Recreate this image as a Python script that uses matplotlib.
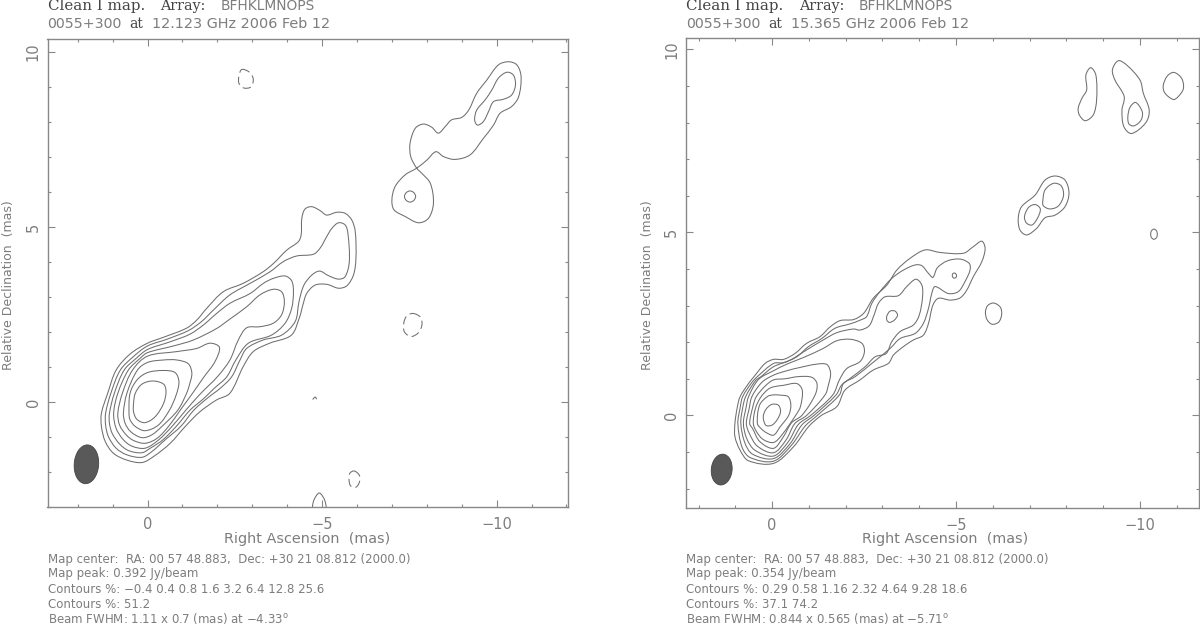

import math

import matplotlib

matplotlib.use("Agg")
import matplotlib.pyplot as plt
from matplotlib.patches import Ellipse, PathPatch
from matplotlib.path import Path
from matplotlib.ticker import MultipleLocator

GREY = "#7d7d7d"
DARK = "#444444"
SANS = "DejaVu Sans"
SERIF = "DejaVu Serif"

# Contours are (RA offset, Dec offset) in mas.
# 12.123 GHz map
l_core_1 = [(1.32, -0.32), (1.14, 0.25), (0.90, 0.91), (0.50, 1.37), (0.00, 1.68), (-0.46, 1.85), (-1.12, 2.11),
            (-1.41, 2.34), (-1.70, 2.68), (-2.17, 3.15), (-2.74, 3.39), (-3.31, 3.72), (-3.61, 3.96),
            (-3.99, 4.34), (-4.32, 4.58), (-4.40, 4.77), (-4.42, 5.25), (-4.51, 5.51), (-4.70, 5.58), (-4.94, 5.47),
            (-5.13, 5.34), (-5.42, 5.42), (-5.66, 5.39), (-5.85, 5.20), (-5.95, 4.87), (-5.97, 4.10), (-5.90, 3.63),
            (-5.71, 3.32), (-5.47, 3.25), (-5.14, 3.36), (-4.80, 3.34), (-4.56, 3.10), (-4.45, 2.77), (-4.36, 2.44),
            (-4.12, 1.91), (-3.50, 1.68), (-3.03, 1.44), (-2.74, 1.01), (-2.36, 0.25), (-1.98, 0.06), (-1.50, -0.28),
            (-1.08, -0.70), (-0.65, -1.18), (-0.17, -1.56), (0.16, -1.73), (0.59, -1.66), (0.97, -1.47), (1.21, -1.13),
            (1.32, -0.70)]
l_core_2 = [(-2.36, 3.06), (-2.94, 3.39), (-3.51, 3.72), (-3.89, 4.01), (-4.27, 4.17), (-4.75, 4.22), (-4.94, 4.39),
            (-5.13, 4.72), (-5.28, 4.96), (-5.47, 5.12), (-5.66, 5.06), (-5.74, 4.82), (-5.78, 4.01), (-5.66, 3.58),
            (-5.47, 3.51), (-5.18, 3.61), (-4.93, 3.74), (-4.71, 3.63), (-4.48, 3.34), (-4.34, 2.87), (-4.23, 2.30),
            (-3.84, 1.91), (-3.31, 1.77), (-2.84, 1.53), (-2.65, 1.20), (-2.41, 0.72), (-2.08, 0.39), (-1.74, 0.13),
            (-1.33, -0.23), (-0.95, -0.70), (-0.53, -1.06), (-0.12, -1.42), (0.16, -1.58), (0.59, -1.51), (0.90, -1.32),
            (1.12, -0.99), (1.20, -0.66), (1.20, -0.32), (1.05, 0.25), (0.78, 0.91), (0.40, 1.30), (0.00, 1.60),
            (-0.55, 1.79), (-1.17, 2.04), (-1.55, 2.30), (-1.89, 2.63)]
l_core_3 = [(-2.36, 2.82), (-2.94, 3.10), (-3.32, 3.39), (-3.60, 3.53), (-3.94, 3.60), (-4.13, 3.46), (-4.18, 3.15),
            (-4.13, 2.68), (-3.94, 2.25), (-3.55, 1.91), (-2.89, 1.68), (-2.53, 1.20), (-2.27, 0.72), (-1.91, 0.39),
            (-1.60, 0.09), (-1.22, -0.23), (-0.82, -0.70), (-0.43, -1.09), (-0.08, -1.32), (0.16, -1.45), (0.54, -1.39),
            (0.80, -1.20), (1.01, -0.90), (1.09, -0.61), (1.09, -0.32), (0.95, 0.25), (0.67, 0.91), (0.32, 1.25),
            (0.00, 1.50), (-0.65, 1.72), (-1.22, 1.94), (-1.60, 2.20), (-1.98, 2.53)]
l_core_4 = [(-2.36, 2.37), (-2.84, 2.72), (-3.22, 3.06), (-3.60, 3.22), (-3.84, 3.15), (-3.92, 2.87), (-3.84, 2.49),
            (-3.60, 2.25), (-3.22, 2.15), (-2.84, 2.12), (-2.60, 1.77), (-2.36, 1.20), (-2.00, 0.72), (-1.53, 0.25),
            (-1.10, -0.23), (-0.70, -0.70), (-0.31, -1.09), (0.07, -1.32), (0.45, -1.26), (0.70, -1.07), (0.90, -0.75),
            (0.97, -0.32), (0.85, 0.25), (0.55, 0.91), (0.21, 1.25), (0.00, 1.41), (-0.74, 1.60), (-1.31, 1.77),
            (-1.98, 2.10)]
l_core_5 = [(0.85, -0.32), (0.72, 0.25), (0.43, 0.91), (0.00, 1.31), (-0.84, 1.44), (-1.41, 1.53), (-1.79, 1.68),
            (-2.06, 1.56), (-1.93, 1.15), (-1.62, 0.72), (-1.29, 0.25), (-0.94, -0.23), (-0.60, -0.70), (-0.27, -1.04),
            (0.07, -1.18), (0.40, -1.10), (0.61, -0.94), (0.80, -0.66)]
l_core_6 = [(0.69, -0.32), (0.59, 0.25), (0.29, 0.91), (0.00, 1.13), (-0.46, 1.20), (-0.84, 1.20), (-1.17, 1.09),
            (-1.27, 0.82), (-1.20, 0.49), (-1.12, 0.25), (-0.87, -0.23), (-0.41, -0.70), (-0.12, -0.94), (0.16, -1.02),
            (0.48, -0.85), (0.64, -0.61)]
l_core_7 = [(0.53, -0.32), (0.50, 0.25), (0.30, 0.63), (0.00, 0.84), (-0.46, 0.90), (-0.79, 0.84), (-0.90, 0.58),
            (-0.82, 0.20), (-0.63, -0.23), (-0.31, -0.66), (0.07, -0.82), (0.35, -0.70), (0.50, -0.51)]
l_core_8 = [(0.40, -0.04), (0.35, 0.25), (0.16, 0.51), (-0.15, 0.60), (-0.46, 0.51), (-0.53, 0.30), (-0.46, -0.04),
            (-0.22, -0.42), (0.07, -0.59), (0.30, -0.50), (0.40, -0.28)]
l_jet_outer = [(-7.71, 6.68), (-7.54, 7.01), (-7.52, 7.39), (-7.67, 7.82), (-7.90, 7.94), (-8.14, 7.85), (-8.33, 7.68),
               (-8.53, 7.87), (-8.71, 8.06), (-9.00, 8.13), (-9.20, 8.34), (-9.43, 8.82), (-9.72, 9.20), (-10.05, 9.63),
               (-10.34, 9.72), (-10.58, 9.63), (-10.70, 9.30), (-10.63, 8.72), (-10.43, 8.44), (-10.10, 8.25),
               (-9.91, 7.91), (-9.62, 7.53), (-9.24, 7.06), (-8.81, 6.93), (-8.48, 7.01), (-8.26, 7.15), (-8.00, 6.91),
               (-7.71, 6.68), (-7.38, 6.49), (-7.09, 6.15), (-7.00, 5.77), (-7.06, 5.49), (-7.38, 5.30), (-7.76, 5.12),
               (-8.05, 5.25), (-8.19, 5.68), (-8.10, 6.25), (-7.86, 6.53)]
l_jet_inner = [(-9.37, 8.06), (-9.43, 8.34), (-9.67, 8.63), (-9.86, 8.91), (-10.05, 9.25), (-10.29, 9.42),
               (-10.48, 9.34), (-10.54, 9.06), (-10.43, 8.77), (-10.20, 8.65), (-9.91, 8.58), (-9.77, 8.30),
               (-9.62, 8.01), (-9.45, 7.91)]
l_knot = [(-7.52, 6.03), (-7.63, 5.98), (-7.68, 5.87), (-7.63, 5.76), (-7.52, 5.71), (-7.41, 5.76), (-7.36, 5.87),
          (-7.41, 5.98)]
l_neg_top = [(-2.70, 9.50), (-2.92, 9.42), (-3.03, 9.22), (-2.96, 9.00), (-2.76, 8.97), (-2.62, 9.10), (-2.62, 9.32)]
l_neg_mid = [(-7.60, 2.53), (-7.82, 2.42), (-7.86, 2.20), (-7.76, 1.98), (-7.55, 1.87), (-7.36, 2.00), (-7.34, 2.25),
             (-7.42, 2.45)]
l_neg_low = [(-5.92, -1.97), (-6.06, -2.08), (-6.08, -2.25), (-5.98, -2.43), (-5.82, -2.40), (-5.77, -2.20),
             (-5.80, -2.03)]
l_neg_tiny = [(-4.73, 0.07), (-4.80, 0.14), (-4.85, 0.08)]
l_arc_bottom = [(-4.70, -3.20), (-4.76, -2.82), (-4.92, -2.60), (-5.08, -2.82), (-5.14, -3.20)]

# 15.365 GHz map
r_core_1 = [(1.01, -0.22), (0.95, 0.20), (0.87, 0.51), (0.62, 0.90), (0.49, 1.06), (0.19, 1.42), (-0.04, 1.53),
            (-0.31, 1.53), (-0.62, 1.69), (-0.94, 1.97), (-1.30, 2.15), (-1.58, 2.42), (-1.85, 2.59), (-2.22, 2.62),
            (-2.49, 2.79), (-2.75, 3.20), (-3.12, 3.56), (-3.39, 3.97), (-3.75, 4.29), (-4.16, 4.52), (-4.57, 4.45),
            (-5.20, 4.43), (-5.47, 4.61), (-5.70, 4.76), (-5.79, 4.56), (-5.70, 4.20), (-5.47, 3.79), (-5.29, 3.42),
            (-5.11, 3.21), (-4.84, 3.15), (-4.52, 3.20), (-4.37, 3.01), (-4.25, 2.51), (-4.11, 2.19), (-3.84, 2.06),
            (-3.57, 1.88), (-3.30, 1.65), (-3.16, 1.42), (-2.75, 1.24), (-2.39, 0.97), (-1.98, 0.69), (-1.76, 0.24),
            (-1.34, 0.00), (-0.99, -0.31), (-0.58, -0.86), (-0.04, -1.31), (0.64, -1.24), (0.87, -0.95), (1.01, -0.58)]
r_core_2 = [(-2.39, 2.60), (-2.57, 2.70), (-2.71, 3.06), (-2.93, 3.38), (-3.25, 3.74), (-3.57, 3.97), (-3.89, 4.11),
            (-4.07, 4.09), (-4.25, 3.88), (-4.37, 3.77), (-4.49, 4.03), (-4.76, 4.22), (-5.11, 4.27), (-5.36, 4.15),
            (-5.38, 3.97), (-5.24, 3.65), (-5.06, 3.38), (-4.79, 3.33), (-4.43, 3.52), (-4.34, 3.33), (-4.25, 2.92),
            (-4.11, 2.51), (-3.89, 2.24), (-3.48, 2.10), (-3.21, 1.83), (-2.71, 1.42), (-2.26, 1.06), (-1.94, 0.87),
            (-1.83, 0.56), (-1.23, 0.00), (-0.90, -0.29), (-0.53, -0.81), (-0.04, -1.25), (0.60, -1.15), (0.82, -0.86),
            (0.93, -0.22), (0.87, 0.20), (0.80, 0.51), (0.55, 0.90), (0.40, 1.06), (-0.04, 1.42), (-0.31, 1.44),
            (-0.67, 1.60), (-0.99, 1.88), (-1.35, 2.10), (-1.71, 2.38), (-2.12, 2.50)]
r_core_3 = [(-2.39, 2.33), (-2.64, 2.45), (-2.77, 2.74), (-2.89, 3.06), (-3.07, 3.24), (-3.43, 3.27), (-3.66, 3.52),
            (-3.91, 3.72), (-4.07, 3.56), (-4.09, 3.24), (-4.00, 2.74), (-3.84, 2.47), (-3.48, 2.29), (-3.25, 2.01),
            (-3.10, 1.69), (-2.80, 1.60), (-2.53, 1.33), (-2.12, 1.01), (-1.89, 0.83), (-1.74, 0.56), (-1.14, 0.00),
            (-0.81, -0.26), (-0.49, -0.77), (-0.04, -1.18), (0.53, -1.06), (0.74, -0.75), (0.85, -0.22), (0.80, 0.20),
            (0.72, 0.51), (0.45, 0.95), (0.30, 1.06), (-0.04, 1.33), (-0.49, 1.51), (-0.94, 1.79), (-1.39, 2.06),
            (-1.76, 2.26), (-2.21, 2.36)]
r_core_4 = [(0.78, -0.22), (0.71, 0.20), (0.64, 0.51), (0.37, 0.98), (-0.04, 1.22), (-0.40, 1.40), (-0.85, 1.58),
            (-1.39, 1.83), (-1.76, 2.04), (-2.12, 2.08), (-2.44, 1.97), (-2.51, 1.74), (-2.39, 1.47), (-2.03, 1.28),
            (-1.83, 0.97), (-1.65, 0.56), (-1.05, 0.00), (-0.72, -0.24), (-0.44, -0.72), (-0.04, -1.11), (0.47, -0.95),
            (0.69, -0.63)]
r_core_5 = [(0.70, -0.22), (0.62, 0.20), (0.55, 0.51), (0.28, 0.90), (-0.04, 1.10), (-0.40, 1.22), (-0.76, 1.31),
            (-1.21, 1.40), (-1.49, 1.39), (-1.59, 1.15), (-1.53, 0.83), (-1.44, 0.56), (-0.94, 0.00), (-0.62, -0.22),
            (-0.38, -0.67), (-0.04, -1.02), (0.40, -0.84), (0.62, -0.49)]
r_core_6 = [(0.61, -0.22), (0.52, 0.25), (0.43, 0.51), (0.19, 0.80), (-0.04, 0.97), (-0.35, 1.00), (-0.72, 1.06),
            (-1.08, 1.04), (-1.22, 0.87), (-1.17, 0.56), (-0.81, 0.00), (-0.53, -0.20), (-0.31, -0.58), (-0.04, -0.90),
            (0.33, -0.72), (0.53, -0.36)]
r_core_7 = [(0.51, -0.22), (0.45, 0.20), (0.30, 0.51), (0.10, 0.72), (-0.04, 0.78), (-0.30, 0.82), (-0.67, 0.87),
            (-0.82, 0.69), (-0.77, 0.24), (-0.64, 0.00), (-0.26, -0.54), (-0.04, -0.74), (0.24, -0.66), (0.42, -0.45)]
r_core_8 = [(0.40, -0.22), (0.34, 0.28), (0.12, 0.52), (-0.04, 0.56), (-0.26, 0.55), (-0.44, 0.51), (-0.51, 0.28),
            (-0.45, 0.00), (-0.22, -0.31), (-0.04, -0.54), (0.16, -0.47), (0.30, -0.36)]
r_core_9 = [(0.24, -0.04), (0.17, 0.16), (0.01, 0.30), (-0.17, 0.28), (-0.23, 0.10), (-0.13, -0.13), (0.01, -0.27),
            (0.17, -0.27)]
r_ring_a = [(-3.12, 2.72), (-3.21, 2.85), (-3.34, 2.85), (-3.41, 2.74), (-3.32, 2.60), (-3.19, 2.54), (-3.12, 2.60)]
r_ring_b = [(-4.96, 3.89), (-5.01, 3.84), (-5.00, 3.77), (-4.94, 3.75), (-4.90, 3.80), (-4.91, 3.87)]
r_ring_c = [(-6.02, 3.07), (-6.20, 2.96), (-6.24, 2.76), (-6.16, 2.55), (-5.98, 2.49), (-5.84, 2.62), (-5.80, 2.83),
            (-5.86, 3.00)]
r_ring_d = [(-10.38, 5.09), (-10.45, 5.04), (-10.47, 4.95), (-10.45, 4.86), (-10.38, 4.81), (-10.31, 4.86),
            (-10.29, 4.95), (-10.31, 5.04)]
r_lobe_outer = [(-6.69, 5.38), (-6.78, 5.70), (-7.15, 6.02), (-7.42, 6.43), (-7.69, 6.54), (-7.96, 6.43), (-8.07, 6.07),
                (-7.96, 5.70), (-7.69, 5.47), (-7.42, 5.40), (-7.19, 5.11), (-6.92, 4.93), (-6.74, 5.06)]
r_lobe_in_1 = [(-6.86, 5.43), (-6.97, 5.68), (-7.15, 5.76), (-7.29, 5.64), (-7.21, 5.38), (-7.06, 5.20), (-6.91, 5.26)]
r_lobe_in_2 = [(-7.36, 5.88), (-7.42, 6.16), (-7.65, 6.34), (-7.86, 6.27), (-7.92, 6.00), (-7.78, 5.72), (-7.55, 5.64),
               (-7.37, 5.73)]
r_blob_a = [(-8.32, 8.39), (-8.42, 8.66), (-8.55, 8.89), (-8.53, 9.30), (-8.66, 9.50), (-8.80, 9.30), (-8.82, 8.62),
            (-8.73, 8.21), (-8.51, 8.05), (-8.35, 8.21)]
r_blob_b = [(-9.25, 9.44), (-9.41, 9.69), (-9.64, 9.57), (-10.00, 9.16), (-10.09, 8.80), (-10.25, 8.34), (-10.16, 8.00),
            (-9.77, 7.70), (-9.56, 7.89), (-9.51, 8.34), (-9.57, 8.71), (-9.32, 9.16)]
r_blob_b_in = [(-9.67, 8.16), (-9.73, 8.42), (-9.88, 8.55), (-10.06, 8.30), (-10.03, 8.07), (-9.84, 7.91), (-9.70, 7.96)]
r_blob_c = [(-10.63, 9.00), (-10.74, 9.27), (-10.92, 9.37), (-11.13, 9.21), (-11.18, 8.93), (-11.04, 8.71),
            (-10.91, 8.63), (-10.68, 8.80)]

l_closed = [l_core_1, l_core_2, l_core_3, l_core_4, l_core_5, l_core_6, l_core_7, l_core_8, l_jet_outer, l_jet_inner,
            l_knot]
l_dashed = [l_neg_top, l_neg_mid, l_neg_low]
r_closed = [r_core_1, r_core_2, r_core_3, r_core_4, r_core_5, r_core_6, r_core_7, r_core_8, r_core_9, r_ring_a,
            r_ring_b, r_ring_c, r_ring_d, r_lobe_outer, r_lobe_in_1, r_lobe_in_2, r_blob_a, r_blob_b, r_blob_b_in,
            r_blob_c]

l_xlim, l_ylim = (2.865, -12.03), (-3.0, 10.37)
r_xlim, r_ylim = (2.34, -11.59), (-2.53, 10.31)

# beam: centre RA, centre Dec, minor, major, position angle
l_beam = (1.75, -1.78, 0.70, 1.11, 4.33)
r_beam = (1.37, -1.48, 0.565, 0.844, 5.71)

l_freq = "12.123 GHz 2006 Feb 12"
r_freq = "15.365 GHz 2006 Feb 12"
l_notes = [
    "Map center:  RA: 00 57 48.883,  Dec: +30 21 08.812 (2000.0)",
    "Map peak: 0.392 Jy/beam",
    "Contours %: \u22120.4 0.4 0.8 1.6 3.2 6.4 12.8 25.6",
    "Contours %: 51.2",
    "Beam FWHM: 1.11 x 0.7 (mas) at \u22124.33$\\mathregular{^o}$",
]
r_notes = [
    "Map center:  RA: 00 57 48.883,  Dec: +30 21 08.812 (2000.0)",
    "Map peak: 0.354 Jy/beam",
    "Contours %: 0.29 0.58 1.16 2.32 4.64 9.28 18.6",
    "Contours %: 37.1 74.2",
    "Beam FWHM: 0.844 x 0.565 (mas) at \u22125.71$\\mathregular{^o}$",
]

W, H = 1200, 626
fig = plt.figure(figsize=(W / 100, H / 100), dpi=100)


def smooth_path(points, closed=True):
    n = len(points)

    def tangent(i):
        if closed:
            a, b, c = points[(i - 1) % n], points[i % n], points[(i + 1) % n]
        else:
            a, b, c = points[max(i - 1, 0)], points[i], points[min(i + 1, n - 1)]
        total = math.dist(a, b) + math.dist(b, c)
        return (c[0] - a[0]) / total, (c[1] - a[1]) / total

    verts = [points[0]]
    codes = [Path.MOVETO]
    for i in range(n if closed else n - 1):
        p1, p2 = points[i], points[(i + 1) % n]
        m1, m2 = tangent(i), tangent(i + 1)
        d = math.dist(p1, p2) / 3
        verts += [(p1[0] + m1[0] * d, p1[1] + m1[1] * d), (p2[0] - m2[0] * d, p2[1] - m2[1] * d), p2]
        codes += [Path.CURVE4] * 3
    return Path(verts, codes)


def add_contour(ax, points, closed=True, dashed=False):
    style = (0, (8, 4)) if dashed else "-"
    ax.add_patch(PathPatch(smooth_path(points, closed), fill=False, edgecolor="#6e6e6e", lw=0.75, linestyle=style))


def px_text(x, y, s, family=SANS, color=GREY, size=8.5, **kwargs):
    fig.text(x / W, 1 - y / H, s, family=family, color=color, fontsize=size, va="center", **kwargs)


def draw_panel(box, xlim, ylim, closed, dashed, open_arcs, beam, freq, notes):
    left, top, right, bottom = box
    ax = fig.add_axes([left / W, 1 - bottom / H, (right - left) / W, (bottom - top) / H])
    ax.set_xlim(xlim)
    ax.set_ylim(ylim)
    for points in closed:
        add_contour(ax, points)
    for points in dashed:
        add_contour(ax, points, dashed=True)
    for points in open_arcs:
        add_contour(ax, points, closed=False)
    ax.add_patch(Ellipse(beam[:2], beam[2], beam[3], angle=beam[4], facecolor="#595959", edgecolor="#444444", lw=0.6))

    ax.xaxis.set_major_locator(MultipleLocator(5))
    ax.xaxis.set_minor_locator(MultipleLocator(1))
    ax.yaxis.set_major_locator(MultipleLocator(5))
    ax.yaxis.set_minor_locator(MultipleLocator(1))
    ax.tick_params(which="both", direction="in", top=True, right=True, color="#888888", width=0.8)
    ax.tick_params(which="major", length=4.8, labelsize=10.5, labelcolor=GREY)
    ax.tick_params(which="minor", length=2.2)
    ax.tick_params(axis="x", pad=7)
    ax.tick_params(axis="y", pad=5)
    for label in ax.get_yticklabels():
        label.set_rotation(90)
        label.set_va("center")
    for spine in ax.spines.values():
        spine.set_color("#888888")
        spine.set_linewidth(1.0)

    px_text(left + 176, 539, "Right Ascension  (mas)", size=10.4)
    px_text(left - 39, 285, "Relative Declination  (mas)", size=9, rotation=90, ha="center")

    px_text(left, 6, "Clean I map.", family=SERIF, color=DARK, size=10.8)
    px_text(left + 113, 6, "Array:", family=SERIF, color=DARK, size=10.3)
    px_text(left + 173, 6, "BFHKLMNOPS", size=9.9)
    px_text(left, 24, "0055+300", size=10.2)
    px_text(left + 82, 24, "at", family=SERIF, color=DARK, size=10)
    px_text(left + 105, 24, freq, size=10.4)
    for y, note in zip((559, 574, 589.5, 604.5, 619), notes):
        px_text(left, y, note, size=8.5)


draw_panel((47.5, 39, 567.5, 507), l_xlim, l_ylim, l_closed, l_dashed, [l_neg_tiny, l_arc_bottom], l_beam, l_freq,
           l_notes)
draw_panel((686, 38, 1198.5, 508), r_xlim, r_ylim, r_closed, [], [], r_beam, r_freq, r_notes)

fig.savefig("out.png", dpi=100)
